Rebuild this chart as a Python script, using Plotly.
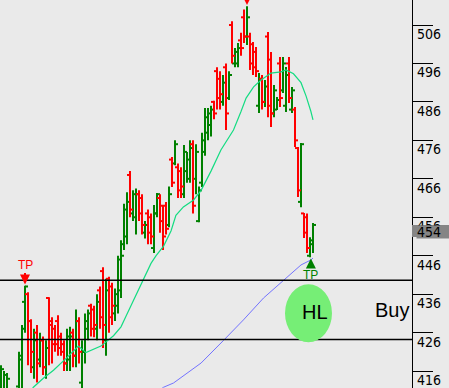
import plotly.graph_objects as go

# ---- OHLC data (one bar per session) ----
opens = [412, 410, 409, 405, 410, 405, 412, 419, 434, 436,
         429, 417, 426, 419, 424, 417, 435, 429, 427, 429,
         425, 423, 418, 419, 426, 420, 429, 413, 421, 427,
         433, 432, 427, 437, 442, 424, 440, 438, 431, 433,
         437, 449, 451, 467, 457, 456, 462, 461, 452, 457,
         456, 448, 457, 461, 459, 459, 454, 471, 470, 469,
         468, 462, 468, 466, 475, 466, 455, 465, 473, 478,
         480, 486, 494, 492, 486, 495, 487, 506, 496, 496,
         502, 508, 503, 503, 501, 499, 485, 492, 486, 503,
         497, 483, 484, 496, 489, 485, 496, 484, 484, 474,
         460, 457, 456, 446, 449]
highs = [417.5, 416, 415.5, 410, 411, 411, 421, 428, 438.2, 436.5,
         429.5, 427, 428, 426, 425, 424, 435.2, 430, 428, 430.5,
         426, 424, 427, 427.5, 427, 432, 430, 424, 431, 432,
         433.5, 433, 436, 438, 443, 440, 440.5, 439, 437.5, 446,
         450, 459.5, 462.5, 468, 463, 463.5, 463, 462, 455, 458,
         457, 459.2, 462.3, 462, 459, 460, 464, 471.7, 476, 470,
         469, 474.8, 473, 476, 476, 475, 464, 478, 484.4, 484.4,
         485, 486.3, 495, 494, 493, 496, 494, 507, 500, 501.3,
         504, 510, 510.9, 504, 501.6, 500.3, 493.5, 493, 491.7, 504.2,
         499, 490.4, 487.3, 497.7, 497.7, 495.1, 497.7, 489.9, 484.7, 474.3,
         475.3, 457.1, 457, 450.8, 454.5]
lows = [410, 408, 407, 403, 404, 404, 409, 411, 426, 417.5,
        415.5, 414, 413, 417, 415, 414, 417.5, 418, 421, 420,
        420, 416, 416, 416, 417, 417, 418, 410.5, 418, 424,
        425, 424.8, 424, 427, 422, 420, 426, 428, 429, 431,
        435, 447.5, 449, 456, 455, 451.5, 455, 451.5, 450.5, 449,
        449, 446.7, 456, 452, 447.5, 451.5, 453.4, 463.9, 469.5, 461,
        461, 461, 465, 465, 457, 462, 454.7, 463.9, 472, 476,
        477, 481.5, 484, 484, 485, 478.7, 486.5, 496, 495, 495,
        498, 501.3, 500.8, 494.3, 493, 492.5, 483.1, 484, 484.7, 482,
        479.5, 482, 483.9, 484.7, 488.3, 483.4, 485.7, 483.1, 474.3, 461.3,
        458.6, 450.6, 446.7, 445.6, 446.7]
closes = [416.5, 415, 414, 409, 405, 410, 420, 427, 438, 429,
          421, 424, 418, 424, 417, 422, 428, 423, 423, 422,
          421, 418, 425, 425, 420, 429, 421, 421, 429, 431,
          427, 428, 434, 430, 428, 437, 430, 433, 436, 445,
          446, 458, 460, 458, 462, 462, 457, 454, 454, 452,
          451, 457, 462, 455, 451, 453, 462, 465, 475, 463,
          464, 473, 471, 474, 459, 473, 463, 476, 482, 483,
          484, 483, 487, 488, 491, 483, 493, 498, 499, 500,
          500, 503, 508, 496, 495, 494, 492, 486, 490, 485,
          483, 489, 486.5, 487, 496, 493, 487, 489, 476, 463,
          475, 452, 448, 450, 454]

# ---- moving averages (bar position, value) ----
fast_ma_pos = [9.2, 10.8, 14.2, 17.5, 21.7, 25.8, 28.3, 33.3, 37.5, 40, 41.7, 47.5, 50,
               51.7, 54.2, 56.7, 58.3, 60.8, 64.2, 66.7, 70, 73.3, 77.5, 80, 81.7, 84.2,
               86.7, 90, 93.3, 95, 97.5, 100, 101.7, 103.3, 104]
fast_ma_val = [410.0, 411.8, 414.2, 416.2, 419.3, 422.5, 420.8, 422.5, 425.2, 427.5, 430.3,
               439.7, 444.0, 446.0, 448.5, 452.5, 456.5, 458.7, 460.5, 463.0, 468.0, 473.5,
               478.7, 483.5, 487.0, 489.9, 491.7, 493.5, 493.8, 494.3, 493.3, 491.0, 487.5,
               483.5, 481.3]
slow_ma_pos = [50, 54.2, 57.5, 60.8, 66.7, 74.2, 80.8, 87.5, 94.2, 96.7, 100, 103.3, 104]
slow_ma_val = [409.5, 411.8, 412.9, 414.7, 418.1, 424.0, 429.3, 435.0, 439.7, 441.5,
               443.6, 444.9, 445.4]

levels = [439.6, 424.2]
ytick_vals = [416, 426, 436, 446, 456, 466, 476, 486, 496, 506]
last_price = 454
tp_top_bar = 8       # TP marker above this bar's high
tp_bottom_bar = 103  # TP marker below this bar's low
peak_bar = 82        # arrow above the top (its label lies outside the view)

N = len(closes)
TW = 1.0
GREEN = "#008000"
RED = "#FF0000"
BG = "#EAEAEA"


def segments(sel):
    xs, ys = [], []
    for i in sel:
        xs += [i, i, None, i - TW, i, None, i, i + TW, None]
        ys += [lows[i], highs[i], None, opens[i], opens[i], None, closes[i], closes[i], None]
    return xs, ys


up = [i for i in range(N) if closes[i] >= opens[i]]
down = [i for i in range(N) if closes[i] < opens[i]]

fig = go.Figure()
for sel, col in ((up, GREEN), (down, RED)):
    xs, ys = segments(sel)
    fig.add_trace(go.Scatter(x=xs, y=ys, mode="lines", line=dict(color=col, width=2),
                             hoverinfo="skip", showlegend=False))

fig.add_trace(go.Scatter(x=slow_ma_pos, y=slow_ma_val, mode="lines",
                         line=dict(color="#7373FF", width=1), hoverinfo="skip", showlegend=False))
fig.add_trace(go.Scatter(x=fast_ma_pos, y=fast_ma_val, mode="lines",
                         line=dict(color="#14DC82", width=1.2), hoverinfo="skip", showlegend=False))

shapes = []
for lv in levels:
    shapes.append(dict(type="line", xref="paper", x0=0, x1=1, yref="y", y0=lv, y1=lv,
                       line=dict(color="black", width=1.5), layer="above"))
shapes.append(dict(type="circle", xref="x", yref="y", x0=94.67, x1=110.33, y0=423.5, y1=438.6,
                   fillcolor="#76EE76", line=dict(width=0), layer="above"))
shapes.append(dict(type="rect", xref="paper", x0=1.0, x1=449 / 412, yref="y",
                   y0=last_price, y1=last_price - 3.15, fillcolor="#858585",
                   line=dict(width=0), layer="above"))

LBL_FONT = "Liberation Sans Narrow, DejaVu Sans Condensed, Arial Narrow, sans-serif"
ann = []
for v in ytick_vals:
    ann.append(dict(xref="paper", x=1.0, xanchor="left", xshift=4, yref="y", y=v,
                    yanchor="top", text=str(v), showarrow=False,
                    font=dict(family=LBL_FONT, size=14, color="black"), borderpad=0))
ann.append(dict(xref="paper", x=1.0, xanchor="left", xshift=4, yref="y", y=last_price,
                yanchor="top", text=str(last_price), showarrow=False, bgcolor="#858585",
                width=33, height=12, align="left", valign="middle", borderpad=0,
                font=dict(family=LBL_FONT, size=14, color="black")))
ann.append(dict(x=104.5, y=431.3, xref="x", yref="y", text="HL", showarrow=False,
                font=dict(family="Liberation Sans, Arial, sans-serif", size=20, color="black")))
ann.append(dict(x=130.3, y=431.9, xref="x", yref="y", text="Buy", showarrow=False,
                font=dict(family="Liberation Sans, Arial, sans-serif", size=20, color="black")))
# TP markers
ann.append(dict(x=tp_top_bar, y=highs[tp_top_bar] + 0.3, xref="x", yref="y", text="TP",
                showarrow=True, arrowhead=2, arrowsize=1, arrowwidth=2, arrowcolor=RED,
                ax=0, ay=-20, font=dict(family="Liberation Sans, Arial", size=12, color=RED)))
ann.append(dict(x=tp_bottom_bar + 0.3, y=lows[tp_bottom_bar] - 0.3, xref="x", yref="y",
                text="TP", showarrow=True, arrowhead=2, arrowsize=1, arrowwidth=2,
                arrowcolor=GREEN, ax=0, ay=17,
                font=dict(family="Liberation Sans, Arial", size=12, color=GREEN)))
ann.append(dict(x=peak_bar, y=highs[peak_bar] + 0.3, xref="x", yref="y", text="",
                showarrow=True, arrowhead=2, arrowsize=1, arrowwidth=2, arrowcolor=RED,
                ax=0, ay=-14))

fig.update_layout(
    width=449, height=388,
    margin=dict(l=0, r=37, t=0, b=0, pad=0),
    paper_bgcolor=BG, plot_bgcolor=BG,
    showlegend=False,
    shapes=shapes, annotations=ann,
    xaxis=dict(range=[-1 / 3, 137], visible=False, fixedrange=True),
    yaxis=dict(range=[411.6, 512.5], side="right", showline=True, linecolor="black",
               linewidth=1, ticks="outside", ticklen=20, tickwidth=1, tickcolor="black",
               tickvals=ytick_vals, showticklabels=False, showgrid=False, zeroline=False,
               fixedrange=True),
)

fig.write_html("out.html", config={"displayModeBar": False},
               post_script="document.body.style.margin='0px';document.body.style.overflow='hidden';")
